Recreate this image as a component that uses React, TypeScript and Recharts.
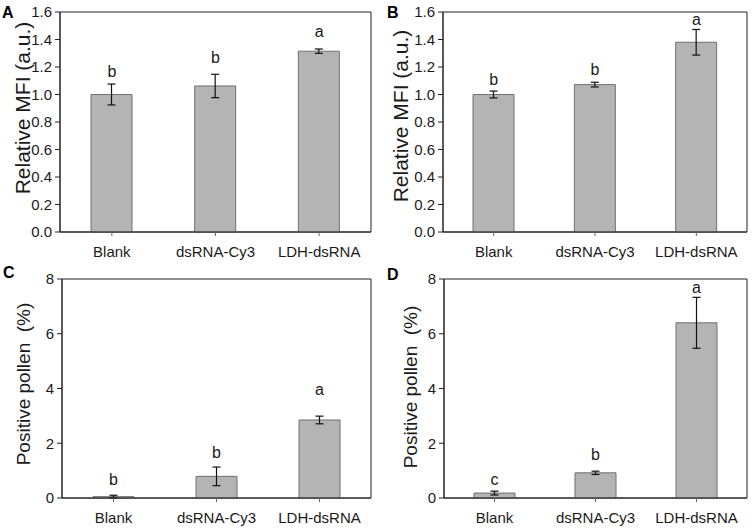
import React from "react";
import { ComposedChart, Bar, Line, XAxis, YAxis, ErrorBar, ReferenceArea, Label } from "recharts";

const categories = ["Blank", "dsRNA-Cy3", "LDH-dsRNA"];

// panel A - relative MFI
const mfiA = [1.0, 1.062, 1.315];
const mfiAErr = [0.076, 0.085, 0.016];
const lettersA = ["b", "b", "a"];
const letterYA = [1.127, 1.229, 1.418];

// panel B - relative MFI
const mfiB = [1.0, 1.072, 1.38];
const mfiBErr = [0.025, 0.017, 0.093];
const lettersB = ["b", "b", "a"];
const letterYB = [1.069, 1.142, 1.505];

// panel C - positive pollen (%)
const pollenC = [0.05, 0.79, 2.85];
const pollenCErr = [0.05, 0.34, 0.14];
const lettersC = ["b", "b", "a"];
const letterYC = [0.485, 1.46, 3.77];

// panel D - positive pollen (%)
const pollenD = [0.18, 0.92, 6.4];
const pollenDErr = [0.07, 0.06, 0.93];
const lettersD = ["c", "b", "a"];
const letterYD = [0.485, 1.4, 7.48];

const mfiTicks = [0, 0.2, 0.4, 0.6, 0.8, 1.0, 1.2, 1.4, 1.6];
const pollenTicks = [0, 2, 4, 6, 8];

const FONT = "'Liberation Sans', Arial, Helvetica, sans-serif";
const INK = "#1a1a1a";

type PanelProps = {
  left: number;
  top: number;
  width: number;
  height: number;
  values: number[];
  errs: number[];
  letters: string[];
  letterY: number[];
  ticks: number[];
  decimals: number;
  yLabel: string;
  yLabelSize: number;
  tag: string;
  axisWidth: number;
  margin: { top: number; right: number; bottom: number; left: number };
  labelX: number;
  labelY: number;
  tagX: number;
  tagY: number;
};

function Panel(p: PanelProps) {
  const data = categories.map((c, i) => ({
    name: c,
    value: p.values[i],
    err: p.errs[i],
    letterY: p.letterY[i],
  }));
  const yMax = p.ticks[p.ticks.length - 1];

  const renderLetter = (props: any) => {
    const { cx, cy, index } = props;
    return (
      <text key={`l${index}`} x={cx} y={cy} textAnchor="middle" fontSize={16} fill={INK} fontFamily={FONT}>
        {p.letters[index]}
      </text>
    );
  };

  return (
    <div style={{ position: "absolute", left: p.left, top: p.top }}>
      <ComposedChart width={p.width} height={p.height} data={data} margin={p.margin}>
        <XAxis
          dataKey="name"
          height={30}
          tick={{ fontSize: 15, fill: INK }}
          tickSize={4}
          tickMargin={10}
          axisLine={{ stroke: "#222" }}
          tickLine={{ stroke: "#666" }}
        />
        <YAxis
          width={p.axisWidth}
          domain={[0, yMax]}
          ticks={p.ticks}
          tickFormatter={(v: number) => v.toFixed(p.decimals)}
          tick={{ fontSize: 15, fill: INK }}
          tickSize={5}
          tickMargin={3}
          axisLine={{ stroke: "#222" }}
          tickLine={{ stroke: "#222" }}
          interval={0}
        >
          <Label
            content={() => (
              <g>
                <text
                  x={p.labelX}
                  y={p.labelY}
                  transform={`rotate(-90, ${p.labelX}, ${p.labelY})`}
                  textAnchor="middle"
                  fontSize={p.yLabelSize}
                  fill={INK}
                  fontFamily={FONT}
                  style={{ whiteSpace: "pre" }}
                >
                  {p.yLabel}
                </text>
                <text x={p.tagX} y={p.tagY} fontSize={16} fontWeight="bold" fill="#000" fontFamily={FONT}>
                  {p.tag}
                </text>
              </g>
            )}
          />
        </YAxis>
        <ReferenceArea y1={0} y2={yMax} fill="none" stroke="#222" strokeWidth={1} ifOverflow="visible" />
        <Bar dataKey="value" barSize={41} fill="#b4b4b4" stroke="#707070" strokeWidth={1} isAnimationActive={false}>
          <ErrorBar dataKey="err" width={4} stroke="#111" strokeWidth={1.2} direction="y" />
        </Bar>
        <Line
          dataKey="letterY"
          stroke="none"
          dot={renderLetter}
          activeDot={false}
          legendType="none"
          isAnimationActive={false}
        />
      </ComposedChart>
    </div>
  );
}

export default function App() {
  return (
    <div
      style={{
        position: "absolute",
        left: 0,
        top: 0,
        width: 755,
        height: 529,
        background: "#fff",
        fontFamily: FONT,
        overflow: "hidden",
      }}
    >
      <Panel
        left={0}
        top={0}
        width={377}
        height={265}
        values={mfiA}
        errs={mfiAErr}
        letters={lettersA}
        letterY={letterYA}
        ticks={mfiTicks}
        decimals={1}
        yLabel="Relative MFI (a.u.)"
        yLabelSize={21}
        tag="A"
        axisWidth={60}
        margin={{ top: 12, right: 6, bottom: 3, left: 0 }}
        labelX={30}
        labelY={108}
        tagX={2}
        tagY={18}
      />
      <Panel
        left={377}
        top={0}
        width={378}
        height={265}
        values={mfiB}
        errs={mfiBErr}
        letters={lettersB}
        letterY={letterYB}
        ticks={mfiTicks}
        decimals={1}
        yLabel="Relative MFI (a.u.)"
        yLabelSize={21}
        tag="B"
        axisWidth={66}
        margin={{ top: 12, right: 8, bottom: 3, left: 0 }}
        labelX={31}
        labelY={116}
        tagX={10}
        tagY={18}
      />
      <Panel
        left={0}
        top={265}
        width={377}
        height={264}
        values={pollenC}
        errs={pollenCErr}
        letters={lettersC}
        letterY={letterYC}
        ticks={pollenTicks}
        decimals={0}
        yLabel={"Positive pollen  (%)"}
        yLabelSize={19}
        tag="C"
        axisWidth={62}
        margin={{ top: 14, right: 6, bottom: 1, left: 0 }}
        labelX={30}
        labelY={119}
        tagX={3}
        tagY={13}
      />
      <Panel
        left={377}
        top={265}
        width={378}
        height={264}
        values={pollenD}
        errs={pollenDErr}
        letters={lettersD}
        letterY={letterYD}
        ticks={pollenTicks}
        decimals={0}
        yLabel={"Positive pollen  (%)"}
        yLabelSize={19}
        tag="D"
        axisWidth={67}
        margin={{ top: 14, right: 8, bottom: 1, left: 0 }}
        labelX={40}
        labelY={122}
        tagX={10}
        tagY={15}
      />
    </div>
  );
}
